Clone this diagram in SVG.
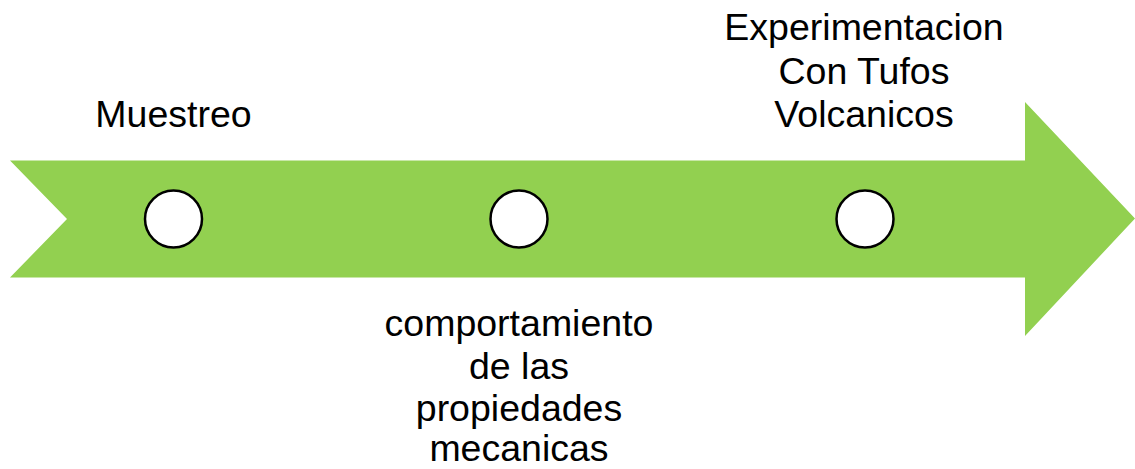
<svg xmlns="http://www.w3.org/2000/svg" width="1135" height="469" viewBox="0 0 1135 469">
<style>
.lbl{font-family:"Liberation Sans",Arial,sans-serif;font-size:37.5px;fill:#000;text-anchor:middle}
.dot{fill:#fff;stroke:#000;stroke-width:2.5}
</style>
<rect width="1135" height="469" fill="#fff"/>
<g id="arrow">
<path d="M10,160.5 L1025,160.5 L1025,102 L1135,218.5 L1025,336 L1025,277.5 L10,277.5 L67,219 Z" fill="#92D050"/>
</g>
<g id="node-muestreo">
<circle class="dot" cx="173.5" cy="219" r="28.5"/>
<text class="lbl" x="173.5" y="127">Muestreo</text>
</g>
<g id="node-comportamiento">
<circle class="dot" cx="519" cy="219" r="28.5"/>
<text class="lbl" x="519" y="336">comportamiento</text>
<text class="lbl" x="519" y="378.5">de las</text>
<text class="lbl" x="519" y="421">propiedades</text>
<text class="lbl" x="519" y="461">mecanicas</text>
</g>
<g id="node-experimentacion">
<circle class="dot" cx="865" cy="219" r="28.5"/>
<text class="lbl" x="864" y="40">Experimentacion</text>
<text class="lbl" x="864" y="83.5">Con Tufos</text>
<text class="lbl" x="864" y="127">Volcanicos</text>
</g>
<g id="connectors"></g>
</svg>
